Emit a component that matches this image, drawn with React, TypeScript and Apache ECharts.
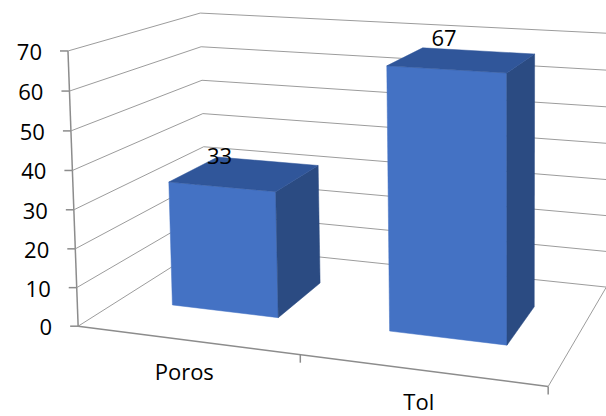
import { useEffect, useRef } from "react";
import * as echarts from "echarts";

// ---- data ----
const categories = ["Poros", "Tol"];
const values = [33, 67];
const tickValues = [0, 10, 20, 30, 40, 50, 60, 70];
const valueMin = 0;
const valueMax = 70;

// ---- 3D layout (unit cube: X across categories, Y value, Z depth front->back) ----
const calib: { w: number[]; s: number[] }[] = [
  { w: [0, 0, 0], s: [80, 323] },
  { w: [0, 1, 0], s: [65, 52] },
  { w: [0, 0, 1], s: [203, 247] },
  { w: [0, 1, 1], s: [204, 12] },
  { w: [1, 0, 0], s: [548, 388] },
  { w: [1, 0, 1], s: [607, 286] },
  { w: [1, 1, 1], s: [607, 33] },
  { w: [0.5, 0, 0], s: [302, 355] },
  { w: [0, 4 / 7, 0], s: [72, 171] },
  { w: [0, 4 / 7, 1], s: [203, 114] },
];
const barZ0 = 0.3;
const barZ1 = 0.7;
const barWidthRatio = 0.5; // of category band

function solve(A: number[][], b: number[]): number[] {
  const n = b.length;
  const M = A.map((r, i) => [...r, b[i]]);
  for (let c = 0; c < n; c++) {
    let p = c;
    for (let r = c + 1; r < n; r++) if (Math.abs(M[r][c]) > Math.abs(M[p][c])) p = r;
    [M[c], M[p]] = [M[p], M[c]];
    for (let r = 0; r < n; r++) {
      if (r === c) continue;
      const f = M[r][c] / M[c][c];
      for (let k = c; k <= n; k++) M[r][k] -= f * M[c][k];
    }
  }
  return M.map((r, i) => r[n] / r[i]);
}

function fitProjection() {
  const N = 11;
  const AtA = Array.from({ length: N }, () => new Array(N).fill(0));
  const Atb = new Array(N).fill(0);
  for (const p of calib) {
    const [X, Y, Z] = p.w;
    const [u, v] = p.s;
    const rows: [number[], number][] = [
      [[X, Y, Z, 1, 0, 0, 0, 0, -u * X, -u * Y, -u * Z], u],
      [[0, 0, 0, 0, X, Y, Z, 1, -v * X, -v * Y, -v * Z], v],
    ];
    for (const [r, b] of rows) {
      for (let i = 0; i < N; i++) {
        for (let j = 0; j < N; j++) AtA[i][j] += r[i] * r[j];
        Atb[i] += r[i] * b;
      }
    }
  }
  return solve(AtA, Atb);
}

const m = fitProjection();
function P(X: number, Y: number, Z: number): number[] {
  const w = m[8] * X + m[9] * Y + m[10] * Z + 1;
  return [
    (m[0] * X + m[1] * Y + m[2] * Z + m[3]) / w,
    (m[4] * X + m[5] * Y + m[6] * Z + m[7]) / w,
  ];
}

const FONT = "'Open Sans', sans-serif";
const GRID = "#9c9c9c";
const AXIS = "#8c8c8c";

function unit(api: any, params: any, xv: number, yv: number) {
  const cs = params.coordSys;
  const pt = api.coord([xv, yv]);
  return [(pt[0] - cs.x) / cs.width, (cs.y + cs.height - pt[1]) / cs.height];
}

export default function App() {
  const ref = useRef<HTMLDivElement>(null);
  useEffect(() => {
    if (!ref.current) return;
    const chart = echarts.init(ref.current, undefined, { renderer: "svg" });
    chart.setOption({
      animation: false,
      backgroundColor: "#ffffff",
      grid: { left: 0, top: 0, width: 100, height: 100 },
      xAxis: { type: "category", data: categories, show: false },
      yAxis: { type: "value", min: valueMin, max: valueMax, interval: 10, show: false },
      series: [
        {
          type: "custom",
          name: "walls",
          clip: false,
          z: 1,
          data: tickValues.map((v) => [0, v]),
          renderItem: (params: any, api: any) => {
            const [, Y] = unit(api, params, 0, api.value(1));
            const f = P(0, Y, 0);
            const b = P(0, Y, 1);
            const r = P(1, Y, 1);
            const children: any[] = [
              { type: "line", shape: { x1: f[0], y1: f[1], x2: b[0], y2: b[1] }, style: { stroke: GRID, lineWidth: 1 } },
              { type: "line", shape: { x1: b[0], y1: b[1], x2: r[0], y2: r[1] }, style: { stroke: GRID, lineWidth: 1 } },
              { type: "line", shape: { x1: f[0] - 8, y1: f[1], x2: f[0], y2: f[1] }, style: { stroke: AXIS, lineWidth: 1.5 } },
              {
                type: "text",
                style: {
                  x: f[0] - 26,
                  y: f[1],
                  text: String(api.value(1)),
                  textAlign: "right",
                  textVerticalAlign: "middle",
                  font: `22px ${FONT}`,
                  lineHeight: 22,
                  fill: "#000",
                },
              },
            ];
            if (params.dataIndex === 0) {
              const top = P(0, 1, 0);
              const e = P(1, 0, 0);
              const eb = P(1, 0, 1);
              children.push(
                { type: "line", shape: { x1: f[0], y1: f[1], x2: top[0], y2: top[1] }, style: { stroke: AXIS, lineWidth: 1.5 } },
                { type: "line", shape: { x1: f[0], y1: f[1], x2: e[0], y2: e[1] }, style: { stroke: AXIS, lineWidth: 1.5 } },
                { type: "line", shape: { x1: e[0], y1: e[1], x2: eb[0], y2: eb[1] }, style: { stroke: GRID, lineWidth: 1 } }
              );
            }
            return { type: "group", children };
          },
        },
        {
          type: "custom",
          name: "categories",
          clip: false,
          z: 1,
          data: categories.map((_, i) => [i, 0]),
          renderItem: (params: any, api: any) => {
            const cs = params.coordSys;
            const [cx] = unit(api, params, api.value(0), 0);
            const band = api.size([1, 0])[0] / cs.width;
            const c = P(cx, 0, 0);
            const edge = P(cx + band / 2, 0, 0);
            return {
              type: "group",
              children: [
                { type: "line", shape: { x1: edge[0], y1: edge[1], x2: edge[0], y2: edge[1] + 8 }, style: { stroke: AXIS, lineWidth: 1.5 } },
                {
                  type: "text",
                  style: {
                    x: c[0] - 2,
                    y: c[1] + 31,
                    text: categories[api.value(0)],
                    textAlign: "center",
                    textVerticalAlign: "middle",
                    font: `22px ${FONT}`,
                    lineHeight: 22,
                    fill: "#000",
                  },
                },
              ],
            };
          },
        },
        {
          type: "custom",
          name: "bars",
          clip: false,
          z: 2,
          data: values.map((v, i) => [i, v]),
          renderItem: (params: any, api: any) => {
            const cs = params.coordSys;
            const [cx, Y] = unit(api, params, api.value(0), api.value(1));
            const band = api.size([1, 0])[0] / cs.width;
            const x0 = cx - (band * barWidthRatio) / 2;
            const x1 = cx + (band * barWidthRatio) / 2;
            const poly = (pts: number[][], fill: string) => ({
              type: "polygon",
              shape: { points: pts },
              style: { fill, stroke: fill, lineWidth: 0.5 },
            });
            const front = [P(x0, 0, barZ0), P(x1, 0, barZ0), P(x1, Y, barZ0), P(x0, Y, barZ0)];
            const side = [P(x1, 0, barZ0), P(x1, 0, barZ1), P(x1, Y, barZ1), P(x1, Y, barZ0)];
            const top = [P(x0, Y, barZ0), P(x1, Y, barZ0), P(x1, Y, barZ1), P(x0, Y, barZ1)];
            const lc = P(cx, Y, barZ0);
            return {
              type: "group",
              children: [
                poly(front, "#4472C4"),
                poly(side, "#2B4B82"),
                poly(top, "#30569A"),
                {
                  type: "text",
                  z2: 10,
                  style: {
                    x: lc[0] - 2,
                    y: lc[1] - 32,
                    text: String(api.value(1)),
                    textAlign: "center",
                    textVerticalAlign: "middle",
                    font: `22px ${FONT}`,
                    lineHeight: 22,
                    fill: "#000",
                  },
                },
              ],
            };
          },
        },
      ],
    });
    return () => chart.dispose();
  }, []);
  return (
    <div
      ref={ref}
      style={{ position: "fixed", left: 0, top: 0, width: 606, height: 416 }}
    />
  );
}
